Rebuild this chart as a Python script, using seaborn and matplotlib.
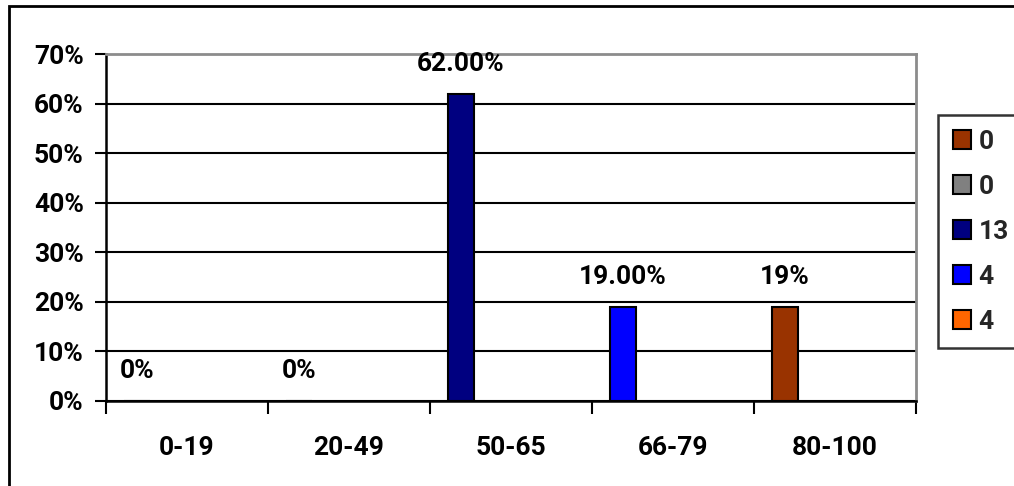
import numpy as np
import pandas as pd
import matplotlib
matplotlib.use("Agg")
import matplotlib.pyplot as plt
from matplotlib.patches import Patch, Rectangle
from matplotlib.ticker import FixedLocator, PercentFormatter
import seaborn as sns

# ---- data ----
categories = ["0-19", "20-49", "50-65", "66-79", "80-100"]
values = [0.0, 0.0, 0.62, 0.19, 0.19]
bar_labels = ["0%", "0%", "62.00%", "19.00%", "19%"]
bar_colors = ["#FF6600", "#808080", "#000080", "#0000FF", "#993300"]
legend_labels = ["0", "0", "13", "4", "4"]
legend_colors = ["#993300", "#808080", "#000080", "#0000FF", "#FF6600"]
y_ticks = [0.0, 0.1, 0.2, 0.3, 0.4, 0.5, 0.6, 0.7]

sns.set_theme(style="white")
plt.rcParams["font.family"] = ["Roboto", "DejaVu Sans"]
plt.rcParams["font.weight"] = "bold"
FS = 19

W, H = 1014, 486
fig = plt.figure(figsize=(W / 100, H / 100), dpi=100)
fig.patch.set_facecolor("white")
ax = fig.add_axes([106 / W, 1 - 401 / H, (916 - 106) / W, (401 - 54) / H])

bar_offset = -0.309  # bars sit in the first slot of each category
df = pd.DataFrame({
    "pos": np.arange(len(categories)) + bar_offset,
    "value": values,
    "cat": categories,
})
sns.barplot(data=df, x="pos", y="value", hue="cat", palette=bar_colors,
            native_scale=True, width=0.16, dodge=False, edgecolor="black",
            linewidth=1.5, legend=False, saturation=1, ax=ax, zorder=3)

ax.set_xlim(-0.5, len(categories) - 0.5)
ax.set_ylim(0, 0.7)

# y axis
ax.yaxis.set_major_locator(FixedLocator(y_ticks))
ax.yaxis.set_major_formatter(PercentFormatter(1.0, decimals=0))
ax.tick_params(axis="y", which="major", direction="out", length=8, width=1.5,
               color="black", left=True, pad=8, labelsize=FS, labelcolor="black")
ax.yaxis.grid(True, color="black", linewidth=1.5, zorder=1)
ax.set_axisbelow(True)
ax.get_ygridlines()[-1].set_visible(False)

# x axis: ticks at category boundaries, labels at centers
ax.xaxis.set_major_locator(FixedLocator(np.arange(len(categories) + 1) - 0.5))
ax.xaxis.set_minor_locator(FixedLocator(np.arange(len(categories))))
ax.set_xticklabels([""] * (len(categories) + 1))
ax.set_xticklabels(categories, minor=True)
ax.tick_params(axis="x", which="major", direction="out", length=9, width=1.5,
               color="black", bottom=True)
ax.tick_params(axis="x", which="minor", length=0, pad=25, labelsize=FS,
               labelcolor="black")
ax.set_xlabel("")
ax.set_ylabel("")
for t in ax.get_xticklabels(minor=True) + ax.get_yticklabels():
    t.set_fontweight("bold")

for side in ["left", "bottom"]:
    ax.spines[side].set_color("black")
    ax.spines[side].set_linewidth(1.8)
for side in ["top", "right"]:
    ax.spines[side].set_color("#8c8c8c")
    ax.spines[side].set_linewidth(2)
    ax.spines[side].set_visible(True)

# value labels
for p, v, lab in zip(df["pos"], values, bar_labels):
    ax.annotate(lab, (p, v), xytext=(0, 21.6), textcoords="offset points",
                ha="center", va="center", fontsize=FS, fontweight="bold",
                color="black")

# legend
handles = [Patch(facecolor=c, edgecolor="black", linewidth=1.5) for c in legend_colors]
leg = fig.legend(handles, legend_labels, loc="upper left",
                 bbox_to_anchor=(938 / W, 1 - 115 / H), frameon=True,
                 prop={"size": FS, "weight": "bold"},
                 handlelength=0.7, handleheight=0.7,
                 handletextpad=0.28, labelspacing=0.8, borderpad=0.55,
                 borderaxespad=0, fancybox=False)
leg.get_frame().set_edgecolor("black")
leg.get_frame().set_linewidth(1.8)

# outer chart border (top and left visible)
fig.patches.append(Rectangle((9 / W, -0.1), 1.2, 1 - 6 / H + 0.1,
                             transform=fig.transFigure, fill=False,
                             edgecolor="black", linewidth=2))

fig.savefig("out.png", dpi=100, facecolor="white")
